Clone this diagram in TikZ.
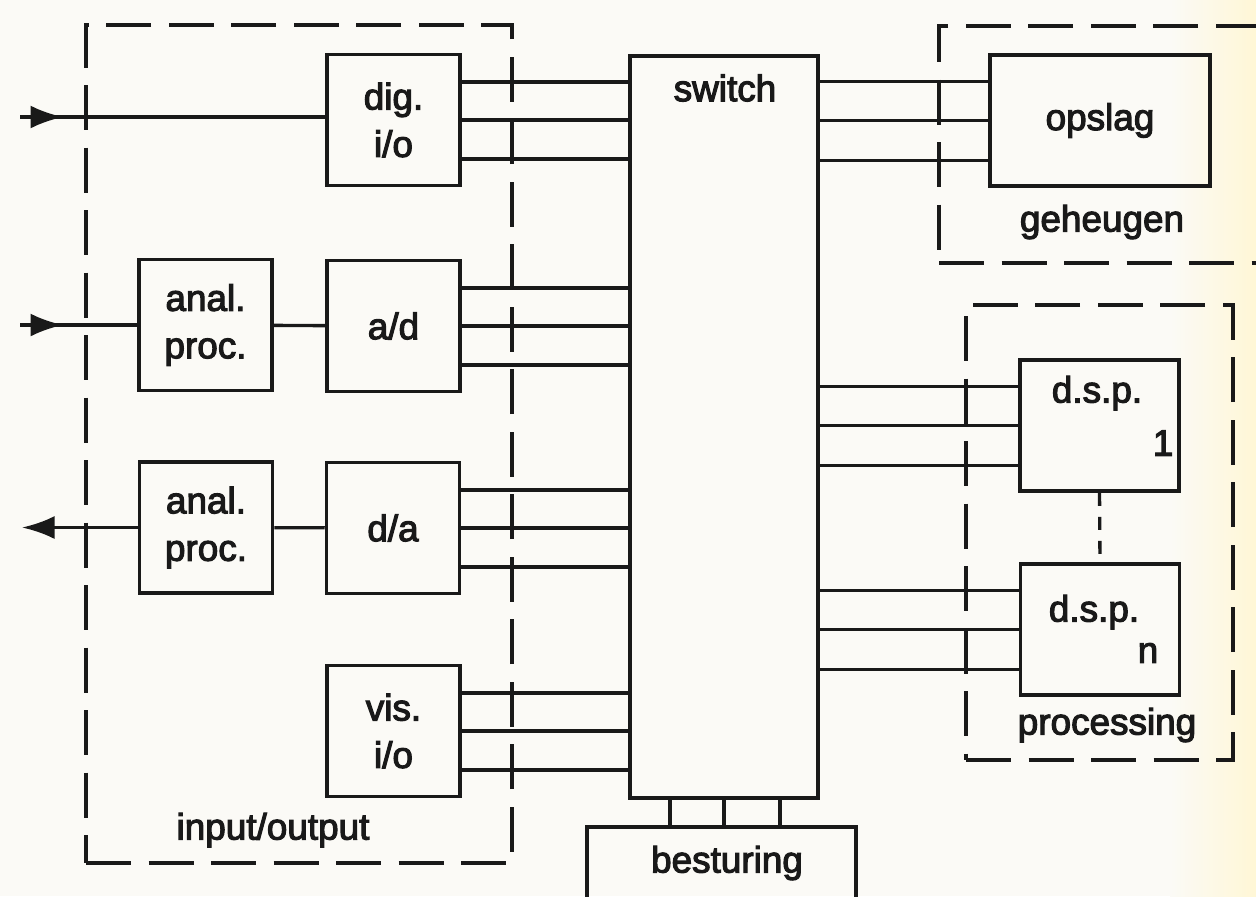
\documentclass[tikz,border=0pt]{standalone}
\usepackage{fontspec}
\setmainfont{Liberation Sans}[FakeBold=3]
\usepackage{tikz}
\usetikzlibrary{arrows.meta}
\definecolor{paper}{RGB}{251,250,246}
\definecolor{cream}{RGB}{255,247,214}
\definecolor{ink}{RGB}{25,25,25}

\begin{document}
\begin{tikzpicture}[
  font=\fontsize{21}{27}\selectfont,
  line width=1.9pt,
  draw=ink, text=ink,
  blk/.style={draw=ink,line width=2pt,align=center,inner sep=2pt,minimum width=2.66cm,minimum height=2.62cm},
  dspbox/.style={blk,minimum width=3.18cm},
  grp/.style={draw=ink,line width=1.8pt,dash pattern=on 0.9cm off 0.35cm},
  lbl/.style={inner sep=0pt,align=center},
  arr/.style={-{Latex[length=6.5mm,width=4.6mm]}},
  dots/.style={dash pattern=on 0.26cm off 0.22cm}
]
% ---------- paper ----------
\fill[paper] (0,0) rectangle (25.12,-17.92);
\shade[left color=paper,right color=cream] (23.4,0) rectangle (25.12,-17.92);
\useasboundingbox (0,0) rectangle (25.12,-17.92);
\clip (0,0) rectangle (25.12,-17.92);
% ---------- groups ----------
\node[grp,minimum width=8.52cm,minimum height=16.76cm] (io)   at (5.98,-8.88) {};
\node[grp,minimum width=7.72cm,minimum height=4.74cm]  (mem)  at (22.64,-2.89) {};
\node[grp,minimum width=5.34cm,minimum height=9.10cm]  (proc) at (21.99,-10.65) {};
% ---------- input/output ----------
\node[blk] (dig)   at (7.87,-2.40)  {dig.\\i/o};
\node[blk] (anal1) at (4.11,-6.50)  {anal.\\proc.};
\node[blk] (ad)    at (7.87,-6.52)  {a/d};
\node[blk] (anal2) at (4.12,-10.55) {anal.\\proc.};
\node[blk] (da)    at (7.86,-10.56) {d/a};
\node[blk] (vis)   at (7.87,-14.62) {vis.\\i/o};
\node[lbl] (iolbl) at (5.46,-16.60) {input/output};
% ---------- switch + besturing ----------
\node[draw=ink,line width=2pt,minimum width=3.76cm,minimum height=14.84cm] (sw) at (14.48,-8.54) {};
\node[lbl] (swlbl) at (14.50,-1.76) {switch};
\node[draw=ink,line width=2pt,minimum width=5.38cm,minimum height=2.4cm] (ctrl) at (14.43,-17.74) {};
\node[lbl] (ctrllbl) at (14.54,-17.26) {besturing};
% ---------- geheugen / processing ----------
\node[blk,minimum width=4.4cm] (opslag) at (22.00,-2.41) {opslag};
\node[lbl] (memlbl) at (22.04,-4.44) {geheugen};
\node[dspbox] (dsp1) at (21.99,-8.51) {};
\node[lbl] (dsp1a) at (21.94,-7.86) {d.s.p.};
\node[lbl] (dsp1b) at (23.26,-8.86) {1};
\node[dspbox] (dspn) at (22.00,-12.59) {};
\node[lbl] (dspna) at (21.88,-12.24) {d.s.p.};
\node[lbl] (dspnb) at (22.96,-13.06) {n};
\node[lbl] (proclbl) at (22.14,-14.50) {processing};
% ---------- signals ----------
\coordinate (in1) at (0.40,-2.34);
\coordinate (in2) at (0.40,-6.50);
\coordinate (out) at (0.44,-10.55);
\draw (in1) -- (in1 -| dig.west);
\draw[arr] (in1) -- ++(0.86,0);
\draw (in2) -- (anal1.west);
\draw[arr] (in2) -- ++(0.86,0);
\draw (anal1) -- (ad);
\draw (da) -- (anal2);
\draw[arr] (anal2.west) -- (out);
% ---------- buses ----------
\foreach \n in {dig,ad,da,vis}
  \foreach \dy in {-0.78,0,0.76}
    \draw ([yshift=\dy cm]\n.east) -- ([yshift=\dy cm]\n.east -| sw.west);
\foreach \n in {opslag,dsp1,dspn}
  \foreach \dy in {-0.8,0,0.78}
    \draw ([yshift=\dy cm]\n.west) -- ([yshift=\dy cm]\n.west -| sw.east);
\foreach \dx in {-1.08,0,1.12}
  \draw ([xshift=\dx cm]sw.south) -- ([xshift=\dx cm]sw.south |- ctrl.north);
\draw[dots] (dsp1.south) -- (dspn.north);
\end{tikzpicture}
\end{document}
